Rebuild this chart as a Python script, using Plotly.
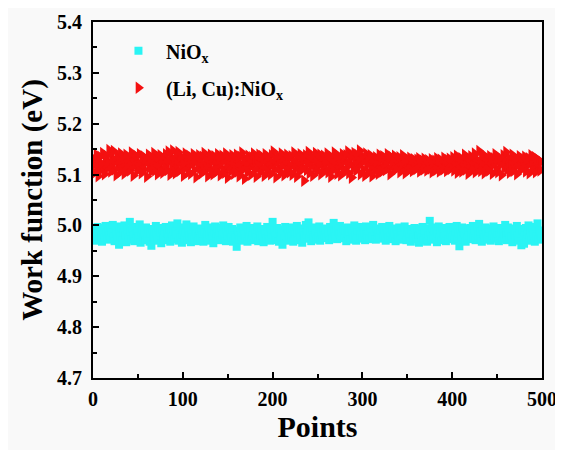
import plotly.graph_objects as go

points = list(range(500))

nio_x = [
4.988, 4.976, 4.994, 4.982, 4.970, 4.997, 4.985, 4.973, 4.991, 4.979, 4.968, 4.995, 4.983, 4.977, 4.999, 4.986, 4.972, 4.990, 4.981, 4.996,
4.974, 4.987, 5.001, 4.979, 4.969, 4.993, 4.984, 4.975, 4.998, 4.962, 4.989, 4.978, 4.995, 4.971, 4.986, 5.000, 4.980, 4.967, 4.992, 4.983,
4.976, 5.007, 4.988, 4.972, 4.994, 4.981, 4.969, 4.997, 4.985, 4.974, 4.990, 4.979, 5.002, 4.966, 4.987, 4.993, 4.977, 4.984, 4.971, 4.996,
4.982, 4.975, 4.991, 4.968, 4.986, 4.960, 4.993, 4.979, 4.988, 4.973, 4.999, 4.983, 4.970, 4.995, 4.977, 4.987, 4.965, 4.992, 4.980, 4.974,
4.989, 4.997, 4.971, 4.984, 4.976, 4.994, 4.968, 4.986, 5.000, 4.979, 4.991, 4.973, 4.988, 4.982, 5.004, 4.970, 4.985, 4.977, 4.996, 4.966,
4.983, 4.992, 4.975, 4.987, 5.002, 4.971, 4.989, 4.980, 4.995, 4.967, 4.984, 4.977, 4.998, 4.973, 4.990, 4.982, 4.969, 4.994, 4.978, 4.986,
4.974, 4.993, 4.981, 4.968, 4.988, 5.001, 4.976, 4.985, 4.970, 4.996, 4.983, 4.972, 4.990, 4.979, 4.965, 4.987, 4.998, 4.975, 4.984, 4.992,
4.978, 4.989, 4.971, 4.995, 4.982, 5.000, 4.974, 4.986, 4.969, 4.991, 4.980, 4.997, 4.973, 4.985, 4.977, 4.993, 4.968, 4.988, 4.981, 4.976,
4.958, 4.990, 4.983, 4.972, 4.996, 4.979, 4.987, 4.970, 4.994, 4.982, 4.975, 4.999, 4.968, 4.986, 4.978, 4.992, 4.973, 4.988, 4.981, 4.995,
4.971, 4.984, 4.977, 4.998, 4.969, 4.989, 4.982, 4.975, 4.993, 4.980, 4.967, 4.991, 4.985, 4.974, 4.997, 4.979, 4.988, 4.970, 4.994, 4.983,
5.007, 4.976, 4.990, 4.981, 4.971, 4.995, 4.984, 4.968, 4.992, 4.978, 4.986, 4.962, 4.989, 4.974, 4.997, 4.981, 4.970, 4.993, 4.985, 4.976,
4.991, 4.979, 4.996, 4.968, 4.987, 4.982, 4.973, 4.999, 4.984, 4.971, 4.990, 4.977, 4.994, 4.966, 4.986, 4.980, 4.975, 5.001, 4.983, 4.989,
5.006, 4.974, 4.988, 4.969, 4.993, 4.981, 4.977, 4.996, 4.985, 4.972, 4.990, 4.979, 4.998, 4.970, 4.987, 4.983, 4.975, 4.994, 4.980, 4.989,
4.976, 4.992, 4.984, 4.971, 4.997, 4.981, 4.988, 4.974, 5.005, 4.986, 4.978, 4.993, 4.973, 4.989, 4.982, 4.999, 4.975, 4.987, 4.980, 4.994,
4.977, 4.990, 4.969, 4.985, 4.996, 4.979, 4.988, 4.972, 4.994, 4.983, 4.976, 5.000, 4.981, 4.970, 4.992, 4.986, 4.974, 4.997, 4.980, 4.989,
4.975, 4.993, 4.984, 4.971, 4.998, 4.982, 4.978, 4.990, 4.973, 4.995, 4.986, 4.979, 5.001, 4.976, 4.988, 4.972, 4.994, 4.981, 4.985, 4.977,
4.991, 4.974, 4.997, 4.983, 4.979, 4.989, 4.970, 4.995, 4.984, 4.976, 4.999, 4.981, 4.987, 4.973, 4.992, 4.978, 4.986, 4.969, 4.994, 4.982,
4.977, 4.996, 4.985, 4.972, 4.990, 4.980, 4.975, 4.998, 4.983, 4.971, 4.988, 4.993, 4.978, 4.986, 4.968, 4.991, 4.982, 4.976, 4.995, 4.984,
4.973, 4.989, 4.980, 4.966, 4.994, 4.983, 4.977, 4.997, 4.971, 4.986, 4.990, 4.975, 4.968, 4.993, 4.981, 5.009, 4.985, 4.972, 4.996, 4.979,
4.988, 4.974, 4.992, 4.967, 4.984, 4.998, 4.976, 4.989, 4.971, 4.995, 4.982, 4.978, 4.993, 4.969, 4.986, 4.980, 4.973, 4.997, 4.983, 4.990,
4.976, 4.994, 4.981, 4.970, 4.988, 4.999, 4.974, 4.985, 4.959, 4.991, 4.979, 4.996, 4.972, 4.987, 4.983, 4.968, 4.993, 4.977, 4.989, 4.981,
4.995, 4.973, 4.986, 4.999, 4.978, 4.990, 4.971, 4.984, 4.997, 4.980, 5.003, 4.975, 4.988, 4.968, 4.993, 4.982, 4.976, 4.996, 4.985, 4.972,
4.989, 4.979, 4.994, 4.970, 4.986, 4.981, 4.998, 4.974, 4.990, 4.977, 4.984, 4.995, 4.969, 4.987, 4.980, 4.992, 4.973, 4.985, 4.978, 5.001,
4.983, 4.971, 4.996, 4.986, 4.975, 4.991, 4.979, 4.967, 4.994, 4.982, 4.988, 4.974, 4.999, 4.980, 4.970, 4.993, 4.985, 4.961, 4.990, 4.977,
4.964, 4.987, 4.995, 4.973, 4.982, 5.000, 4.976, 4.989, 4.970, 4.994, 4.981, 4.986, 4.968, 4.997, 4.979, 5.004, 4.972, 4.990, 4.983, 4.975,
]

li_cu_nio_x = [
5.118, 5.131, 5.104, 5.126, 5.139, 5.112, 5.097, 5.124, 5.135, 5.109, 5.121, 5.142, 5.116, 5.101, 5.128, 5.137, 5.113, 5.125, 5.148, 5.119,
5.106, 5.133, 5.122, 5.146, 5.110, 5.127, 5.099, 5.138, 5.117, 5.129, 5.105, 5.141, 5.123, 5.114, 5.132, 5.102, 5.126, 5.139, 5.111, 5.120,
5.134, 5.108, 5.125, 5.143, 5.115, 5.098, 5.130, 5.121, 5.137, 5.107, 5.124, 5.112, 5.140, 5.118, 5.103, 5.129, 5.136, 5.110, 5.122, 5.131,
5.096, 5.127, 5.139, 5.114, 5.125, 5.106, 5.133, 5.119, 5.142, 5.108, 5.128, 5.115, 5.101, 5.135, 5.122, 5.138, 5.111, 5.126, 5.104, 5.131,
5.117, 5.140, 5.123, 5.109, 5.145, 5.127, 5.100, 5.134, 5.118, 5.147, 5.112, 5.129, 5.103, 5.138, 5.121, 5.144, 5.107, 5.125, 5.136, 5.113,
5.130, 5.098, 5.124, 5.141, 5.115, 5.128, 5.105, 5.137, 5.119, 5.102, 5.133, 5.122, 5.140, 5.109, 5.126, 5.095, 5.131, 5.117, 5.138, 5.112,
5.124, 5.103, 5.135, 5.120, 5.142, 5.108, 5.127, 5.114, 5.097, 5.132, 5.123, 5.139, 5.110, 5.126, 5.101, 5.136, 5.118, 5.129, 5.106, 5.140,
5.115, 5.131, 5.099, 5.125, 5.137, 5.111, 5.128, 5.104, 5.141, 5.120, 5.094, 5.133, 5.116, 5.127, 5.108, 5.138, 5.122, 5.102, 5.130, 5.113,
5.139, 5.106, 5.124, 5.097, 5.135, 5.118, 5.143, 5.110, 5.127, 5.092, 5.131, 5.121, 5.105, 5.137, 5.115, 5.128, 5.100, 5.134, 5.119, 5.141,
5.109, 5.126, 5.096, 5.132, 5.117, 5.139, 5.104, 5.123, 5.136, 5.112, 5.129, 5.098, 5.140, 5.120, 5.107, 5.133, 5.114, 5.127, 5.101, 5.138,
5.122, 5.145, 5.110, 5.130, 5.095, 5.125, 5.137, 5.113, 5.128, 5.103, 5.141, 5.118, 5.134, 5.099, 5.124, 5.108, 5.139, 5.120, 5.131, 5.105,
5.116, 5.136, 5.100, 5.127, 5.143, 5.111, 5.122, 5.096, 5.134, 5.119, 5.106, 5.140, 5.125, 5.113, 5.131, 5.088, 5.129, 5.138, 5.109, 5.121,
5.144, 5.103, 5.127, 5.117, 5.135, 5.098, 5.130, 5.112, 5.142, 5.124, 5.107, 5.133, 5.119, 5.139, 5.101, 5.126, 5.114, 5.137, 5.108, 5.129,
5.122, 5.141, 5.105, 5.131, 5.116, 5.096, 5.134, 5.125, 5.110, 5.143, 5.119, 5.128, 5.102, 5.137, 5.114, 5.130, 5.099, 5.124, 5.140, 5.111,
5.127, 5.106, 5.138, 5.118, 5.145, 5.103, 5.132, 5.121, 5.094, 5.135, 5.113, 5.142, 5.125, 5.108, 5.139, 5.116, 5.130, 5.147, 5.101, 5.123,
5.136, 5.110, 5.128, 5.098, 5.141, 5.119, 5.132, 5.104, 5.125, 5.138, 5.112, 5.097, 5.130, 5.121, 5.107, 5.134, 5.117, 5.127, 5.102, 5.139,
5.115, 5.129, 5.106, 5.136, 5.120, 5.133, 5.109, 5.124, 5.140, 5.113, 5.128, 5.101, 5.135, 5.118, 5.126, 5.108, 5.137, 5.122, 5.111, 5.131,
5.117, 5.134, 5.105, 5.127, 5.120, 5.138, 5.112, 5.125, 5.103, 5.131, 5.119, 5.128, 5.109, 5.133, 5.115, 5.124, 5.107, 5.130, 5.118, 5.126,
5.111, 5.129, 5.116, 5.132, 5.106, 5.123, 5.119, 5.127, 5.110, 5.131, 5.114, 5.125, 5.108, 5.128, 5.117, 5.122, 5.112, 5.130, 5.105, 5.124,
5.118, 5.127, 5.109, 5.132, 5.115, 5.121, 5.106, 5.129, 5.113, 5.125, 5.110, 5.133, 5.117, 5.122, 5.107, 5.128, 5.114, 5.131, 5.111, 5.126,
5.119, 5.134, 5.108, 5.124, 5.116, 5.137, 5.104, 5.128, 5.113, 5.121, 5.132, 5.106, 5.126, 5.118, 5.139, 5.110, 5.127, 5.115, 5.102, 5.131,
5.122, 5.136, 5.109, 5.128, 5.117, 5.141, 5.105, 5.130, 5.120, 5.112, 5.146, 5.124, 5.107, 5.133, 5.118, 5.139, 5.103, 5.127, 5.114, 5.131,
5.121, 5.108, 5.136, 5.116, 5.128, 5.102, 5.132, 5.123, 5.140, 5.111, 5.126, 5.105, 5.134, 5.119, 5.129, 5.099, 5.124, 5.138, 5.113, 5.127,
5.144, 5.110, 5.122, 5.133, 5.104, 5.127, 5.118, 5.139, 5.107, 5.125, 5.115, 5.131, 5.101, 5.128, 5.120, 5.136, 5.109, 5.123, 5.112, 5.130,
5.117, 5.135, 5.106, 5.126, 5.119, 5.132, 5.103, 5.124, 5.138, 5.111, 5.128, 5.116, 5.134, 5.105, 5.122, 5.130, 5.113, 5.127, 5.108, 5.125,
]

x_ticks = [0, 100, 200, 300, 400, 500]
y_ticks = [4.7, 4.8, 4.9, 5.0, 5.1, 5.2, 5.3, 5.4]

FONT = "Liberation Serif"

fig = go.Figure()
fig.add_trace(go.Scatter(
    x=points, y=nio_x, mode="markers", name="NiO<sub>x</sub>",
    legendgroup="a",
    marker=dict(symbol="square", size=8, color="#2AF4F4", line=dict(width=0)),
))
fig.add_trace(go.Scatter(
    x=points, y=li_cu_nio_x, mode="markers", name="(Li, Cu):NiO<sub>x</sub>",
    legendgroup="b",
    marker=dict(symbol="triangle-right", size=11, color="#F41010", line=dict(width=0)),
))

axis_common = dict(
    showline=True, linecolor="black", linewidth=2, mirror=True,
    ticks="inside", tickcolor="black", tickwidth=2, ticklen=6,
    showgrid=False, zeroline=False, automargin=False,
    tickfont=dict(family=FONT, size=20, color="black", weight="bold"),
)

fig.update_xaxes(
    range=[0, 500], tickvals=x_ticks, ticktext=[str(v) for v in x_ticks],
    minor=dict(ticks="inside", dtick=50, ticklen=4, tickwidth=2, tickcolor="black"),
    ticklabelstandoff=2,
    title=dict(text="Points", font=dict(family=FONT, size=30, color="black", weight="bold"), standoff=5),
    **axis_common,
)
fig.update_yaxes(
    range=[4.7, 5.4], tickvals=y_ticks, ticktext=[f"{v:.1f}" for v in y_ticks],
    minor=dict(ticks="inside", dtick=0.05, ticklen=4, tickwidth=2, tickcolor="black"),
    ticklabelstandoff=5,
    title=dict(text="Work function (eV)", font=dict(family=FONT, size=29, color="black", weight="bold"), standoff=6),
    **axis_common,
)

fig.update_layout(
    width=555, height=442,
    margin=dict(l=85, r=21, t=14, b=72),
    paper_bgcolor="#f9f9f9", plot_bgcolor="#f9f9f9",
    showlegend=True,
    legend=dict(
        x=0.04, y=0.974, xanchor="left", yanchor="top",
        bgcolor="rgba(0,0,0,0)", borderwidth=0,
        font=dict(family=FONT, size=20, color="black", weight="bold"),
        tracegroupgap=8, traceorder="grouped", itemwidth=45,
    ),
)

fig.write_html("out.html")
